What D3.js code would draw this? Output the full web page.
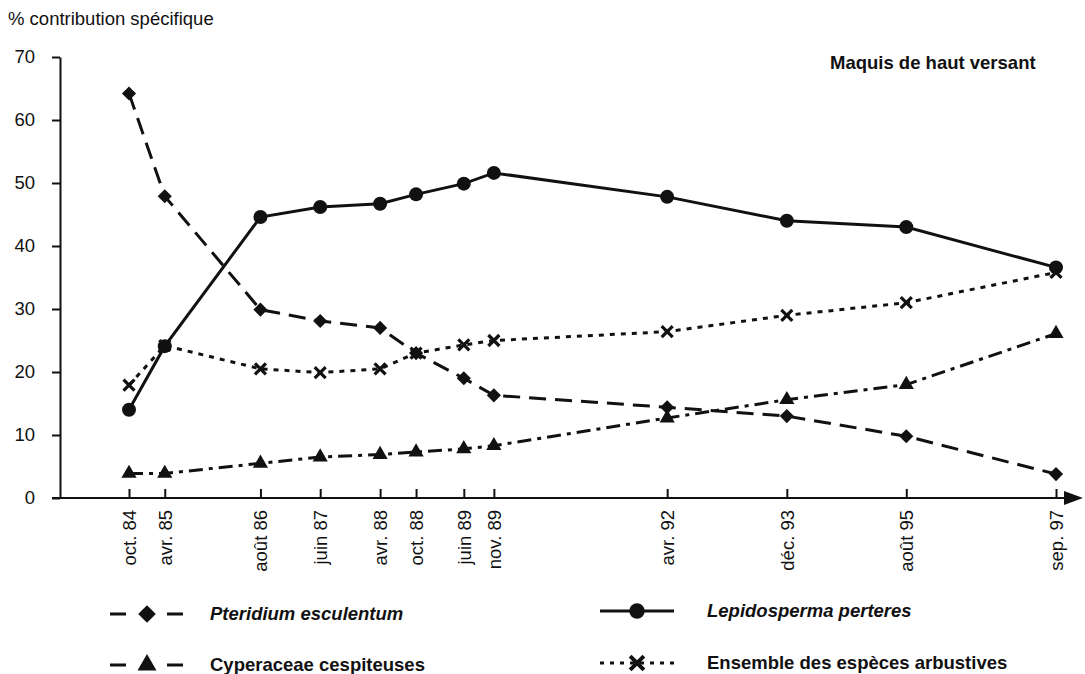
<!DOCTYPE html>
<html>
<head>
<meta charset="utf-8">
<script src="https://cdn.jsdelivr.net/npm/d3@7"></script>
<style>
	body { margin: 0; background: #fff; }
	text { font-family: "Liberation Sans", Arial, Helvetica, sans-serif; fill: #111; }
	.axis path, .axis line { stroke: #111; stroke-width: 2; }
	.axis text { font-size: 18.5px; }
</style>
</head>
<body>
<div id="chart"></div>
<script>

// sampling dates and their labels
const dates = ["1984-10", "1985-04", "1986-08", "1987-06", "1988-04", "1988-10",
	"1989-06", "1989-11", "1992-04", "1993-12", "1995-08", "1997-09"];
const tickLabels = ["oct. 84", "avr. 85", "août 86", "juin 87", "avr. 88", "oct. 88",
	"juin 89", "nov. 89", "avr. 92", "déc. 93", "août 95", "sep. 97"];
const yTicks = [0, 10, 20, 30, 40, 50, 60, 70];

// % contribution spécifique, one array per series
const pteridium    = [64.2, 47.9, 29.9, 28.1, 27.0, 23.0, 19.0, 16.3, 14.4, 13.0, 9.8, 3.8];
const lepidosperma = [14.0, 24.1, 44.6, 46.2, 46.7, 48.2, 49.9, 51.6, 47.8, 44.0, 43.0, 36.6];
const cyperaceae   = [3.9, 3.9, 5.5, 6.5, 6.9, 7.3, 7.8, 8.3, 12.7, 15.6, 18.0, 26.1];
const arbustives   = [17.9, 24.2, 20.5, 19.9, 20.5, 23.0, 24.3, 25.0, 26.4, 29.0, 31.0, 35.8];

class SpeciesChart {

	constructor(parentElement) {
		this._parentElement = parentElement;
		let parse = d3.timeParse("%Y-%m");
		this._dates = dates.map(parse);
		this._series = [
			{name: "Pteridium esculentum", values: pteridium, dash: "17,9", marker: "diamond", italic: true,
				legend: {x: 110, y: 614, dash: "16,41,16", tx: 100}},
			{name: "Cyperaceae cespiteuses", values: cyperaceae, dash: "14,6,4,6", marker: "triangle", italic: false,
				legend: {x: 110, y: 665, dash: "16,41,16", tx: 100}},
			{name: "Lepidosperma perteres", values: lepidosperma, dash: null, marker: "circle", italic: true,
				legend: {x: 600, y: 611, dash: null, tx: 107}},
			{name: "Ensemble des espèces arbustives", values: arbustives, dash: "5,6", marker: "cross", italic: false,
				legend: {x: 600, y: 663, dash: "4,6", tx: 107}}
		];
	}

	initVis() {
		let vis = this;

		vis.margin = {top: 57, right: 29, bottom: 176, left: 60};
		vis.width = 1085 - vis.margin.left - vis.margin.right;
		vis.height = 674 - vis.margin.top - vis.margin.bottom;

		vis.root = d3.select("#" + vis._parentElement).append("svg")
			.attr("width", 1085)
			.attr("height", 674);

		vis.svg = vis.root.append("g")
			.attr("transform", "translate(" + vis.margin.left + "," + vis.margin.top + ")");

		// time scale, the ticks are spaced by month
		vis.x = d3.scaleTime()
			.domain(d3.extent(vis._dates))
			.range([69, 996]);

		vis.y = d3.scaleLinear()
			.domain([0, 70])
			.range([vis.height, 0]);

		// y axis
		vis.svg.append("g")
			.attr("class", "axis y-axis")
			.call(d3.axisLeft(vis.y).tickValues(yTicks).tickSizeInner(8).tickSizeOuter(0).tickPadding(17));

		// x axis, ticks pointing inwards, labels rotated
		let xAxis = vis.svg.append("g")
			.attr("class", "axis x-axis")
			.attr("transform", "translate(0," + vis.height + ")")
			.call(d3.axisBottom(vis.x).tickValues(vis._dates).tickSizeInner(-9).tickSizeOuter(0)
				.tickFormat((d, i) => tickLabels[i]));

		xAxis.select(".domain").remove();
		xAxis.selectAll("text")
			.attr("transform", "rotate(-90)")
			.attr("x", -12)
			.attr("y", 0)
			.attr("dy", "0.35em")
			.style("text-anchor", "end");

		// long baseline with arrow head
		xAxis.append("line")
			.attr("x1", -8).attr("x2", vis.width + 12)
			.attr("y1", 0).attr("y2", 0)
			.attr("stroke", "#111").attr("stroke-width", 2);
		xAxis.append("path")
			.attr("d", "M" + (vis.width + 24) + ",0l-15,-5.5v11z")
			.attr("fill", "#111");

		// lines
		vis.line = d3.line()
			.x((d, i) => vis.x(vis._dates[i]))
			.y(d => vis.y(d));

		vis._series.forEach(s => {
			vis.svg.append("path")
				.datum(s.values)
				.attr("fill", "none")
				.attr("stroke", "#111")
				.attr("stroke-width", 3)
				.attr("stroke-dasharray", s.dash)
				.attr("d", vis.line);
		});

		// markers on top
		vis._series.forEach(s => {
			s.values.forEach((v, i) => {
				vis.drawMarker(vis.svg, s.marker, vis.x(vis._dates[i]), vis.y(v), 1);
			});
		});

		// titles
		vis.root.append("text")
			.attr("x", 8).attr("y", 25)
			.style("font-size", "18.5px")
			.text("% contribution spécifique");

		vis.root.append("text")
			.attr("x", 830).attr("y", 69)
			.style("font-size", "18.5px")
			.style("font-weight", "bold")
			.text("Maquis de haut versant");

		// legend
		vis._series.forEach(s => {
			let g = vis.root.append("g")
				.attr("transform", "translate(" + s.legend.x + "," + s.legend.y + ")");
			g.append("line")
				.attr("x1", 0).attr("x2", 74)
				.attr("y1", 0).attr("y2", 0)
				.attr("stroke", "#111")
				.attr("stroke-width", 3)
				.attr("stroke-dasharray", s.legend.dash);
			vis.drawMarker(g, s.marker, 37, 0, s.marker === "circle" ? 1.1 : 1.25);
			g.append("text")
				.attr("x", s.legend.tx).attr("y", 0)
				.attr("dy", "0.35em")
				.style("font-size", "18.5px")
				.style("font-weight", "bold")
				.style("font-style", s.italic ? "italic" : "normal")
				.text(s.name);
		});
	}

	drawMarker(parent, type, cx, cy, k) {
		let pos = "translate(" + cx + "," + cy + ") scale(" + k + ")";
		if (type === "circle") {
			parent.append("circle")
				.attr("cx", cx).attr("cy", cy).attr("r", 7 * k)
				.attr("fill", "#111");
		} else if (type === "diamond") {
			parent.append("path")
				.attr("d", d3.symbol(d3.symbolSquare, 100)())
				.attr("transform", pos + " rotate(45)")
				.attr("fill", "#111");
		} else if (type === "triangle") {
			parent.append("path")
				.attr("d", d3.symbol(d3.symbolTriangle, 100)())
				.attr("transform", pos)
				.attr("fill", "#111");
		} else {
			parent.append("path")
				.attr("d", "M-5.5,-5.5L5.5,5.5M5.5,-5.5L-5.5,5.5")
				.attr("transform", pos)
				.attr("stroke", "#111")
				.attr("stroke-width", 3.2)
				.attr("fill", "none");
		}
	}
}

let chart = new SpeciesChart("chart");
chart.initVis();

</script>
</body>
</html>
